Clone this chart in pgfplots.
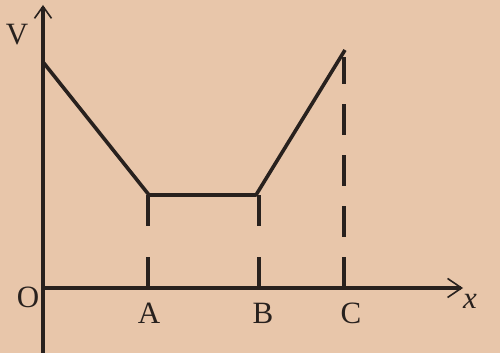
\documentclass[border=0pt]{standalone}
\usepackage{fontspec}
\setmainfont{Liberation Serif}
\usepackage{pgfplots}
\pgfplotsset{compat=1.18}
\usetikzlibrary{arrows.meta}

\definecolor{paper}{RGB}{232,198,170}
\definecolor{ink}{RGB}{40,33,30}
\tikzset{lbl/.style={text=ink, font=\fontsize{31}{33}\selectfont}}

\begin{document}
\begin{tikzpicture}
\begin{axis}[
  x=1pt, y=1pt,
  xmin=-43, xmax=457,
  ymin=-65, ymax=288,
  axis line style={draw=none},
  xtick=\empty, ytick=\empty,
  axis background/.style={fill=paper},
  clip=false,
]

% axes
\addplot[ink, line width=3.6pt, -{Straight Barb[length=12pt,width=17pt,line width=1.6pt]}]
  coordinates {(0,-65) (0,283)};
\addplot[ink, line width=3.6pt, -{Straight Barb[length=14pt,width=19pt,line width=1.6pt]}]
  coordinates {(0,0) (420,0)};

% V-x graph
\addplot[ink, line width=3.6pt, line join=round] coordinates {
  (0,226) (106,93) (213,93) (302,238)
};

% dashed guides (drawn from the x axis up)
\addplot[ink, line width=3.6pt, dash pattern=on 31pt off 31pt]
  coordinates {(105,0) (105,93)};
\addplot[ink, line width=3.6pt, dash pattern=on 31pt off 31pt]
  coordinates {(216,0) (216,93)};
\addplot[ink, line width=3.6pt, dash pattern=on 31pt off 20pt]
  coordinates {(301,0) (301,231)};

% labels
\node[lbl] at (axis cs:-26,253) {V};
\node[lbl] at (axis cs:-15,-9) {O};
\node[lbl] at (axis cs:106,-25) {A};
\node[lbl] at (axis cs:220,-25) {B};
\node[lbl] at (axis cs:308,-25) {C};
\node[lbl] at (axis cs:427,-13) {\itshape x};
\end{axis}
\end{tikzpicture}
\end{document}
